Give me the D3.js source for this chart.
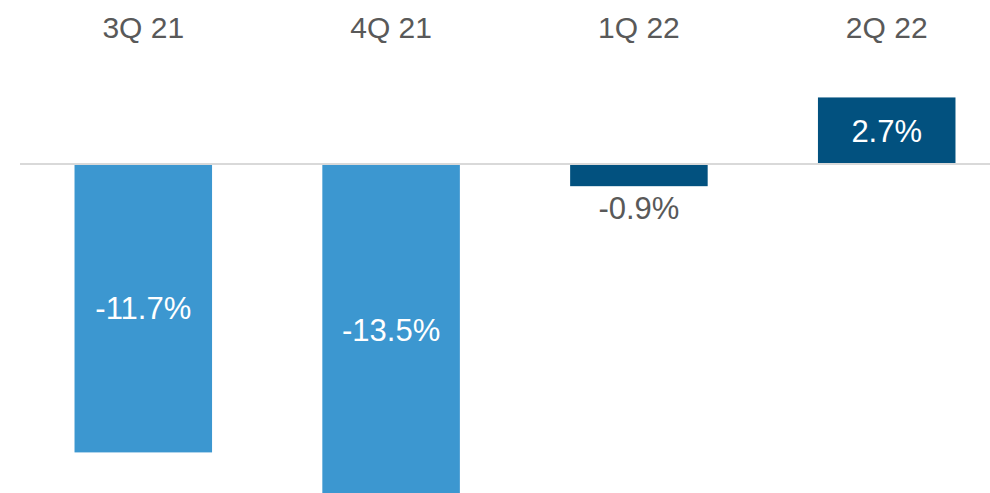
<!DOCTYPE html>
<html>
<head>
<meta charset="utf-8">
<script src="https://cdn.jsdelivr.net/npm/d3@7/dist/d3.min.js"></script>
<style>
  html, body { margin: 0; padding: 0; background: #fff; }
  svg { display: block; }
  text { font-family: "Liberation Sans", Arial, sans-serif; }
</style>
</head>
<body>
<svg id="chart" width="990" height="493"></svg>
<script>
// Quarterly change, percent
const quarters = ["3Q 21", "4Q 21", "1Q 22", "2Q 22"];
const changes = [-11.7, -13.5, -0.9, 2.7];
const barColors = ["#3c97d0", "#3c97d0", "#02517f", "#02517f"];

const width = 990, height = 493;
const svg = d3.select("#chart");

const x = d3.scaleBand()
  .domain(quarters)
  .range([20, 1010])
  .paddingInner(0.445)
  .paddingOuter(0.22);

const zeroY = 164, pxPerUnit = 24.65;
const y = d3.scaleLinear()
  .domain([-14, 3])
  .range([zeroY + 14 * pxPerUnit, zeroY - 3 * pxPerUnit]);

const color = d3.scaleOrdinal().domain(quarters).range(barColors);
const data = quarters.map((q, i) => ({ q, v: changes[i] }));

// Bars
svg.append("g").selectAll("rect")
  .data(data)
  .join("rect")
  .attr("x", d => x(d.q))
  .attr("width", x.bandwidth())
  .attr("y", d => y(Math.max(0, d.v)))
  .attr("height", d => Math.abs(y(d.v) - y(0)))
  .attr("fill", d => color(d.q));

// Zero line
svg.append("line")
  .attr("x1", 20).attr("x2", width)
  .attr("y1", y(0)).attr("y2", y(0))
  .attr("stroke", "#d9d9d9")
  .attr("stroke-width", 2);

// Category labels along the top
const xAxis = d3.axisTop(x).tickSize(0).tickPadding(0);
const axisG = svg.append("g")
  .attr("transform", "translate(0,38)")
  .call(xAxis);
axisG.select(".domain").remove();
axisG.selectAll("text")
  .attr("font-family", "'Liberation Sans', Arial, sans-serif")
  .attr("font-size", 30)
  .attr("fill", "#595959")
  .attr("dy", 0);

// Value labels (plain hyphen for the minus sign)
const fmt = v => d3.format(".1f")(v).replace("\u2212", "-") + "%";
const barHeight = d => Math.abs(y(d.v) - y(0));
svg.append("g").selectAll("text")
  .data(data)
  .join("text")
  .attr("x", d => x(d.q) + x.bandwidth() / 2)
  .attr("y", d => barHeight(d) < 40 ? y(d.v) + 33 : (y(d.v) + y(0)) / 2 + 11)
  .attr("text-anchor", "middle")
  .attr("font-size", 31)
  .attr("fill", d => barHeight(d) < 40 ? "#595959" : "#ffffff")
  .text(d => fmt(d.v));
</script>
</body>
</html>
